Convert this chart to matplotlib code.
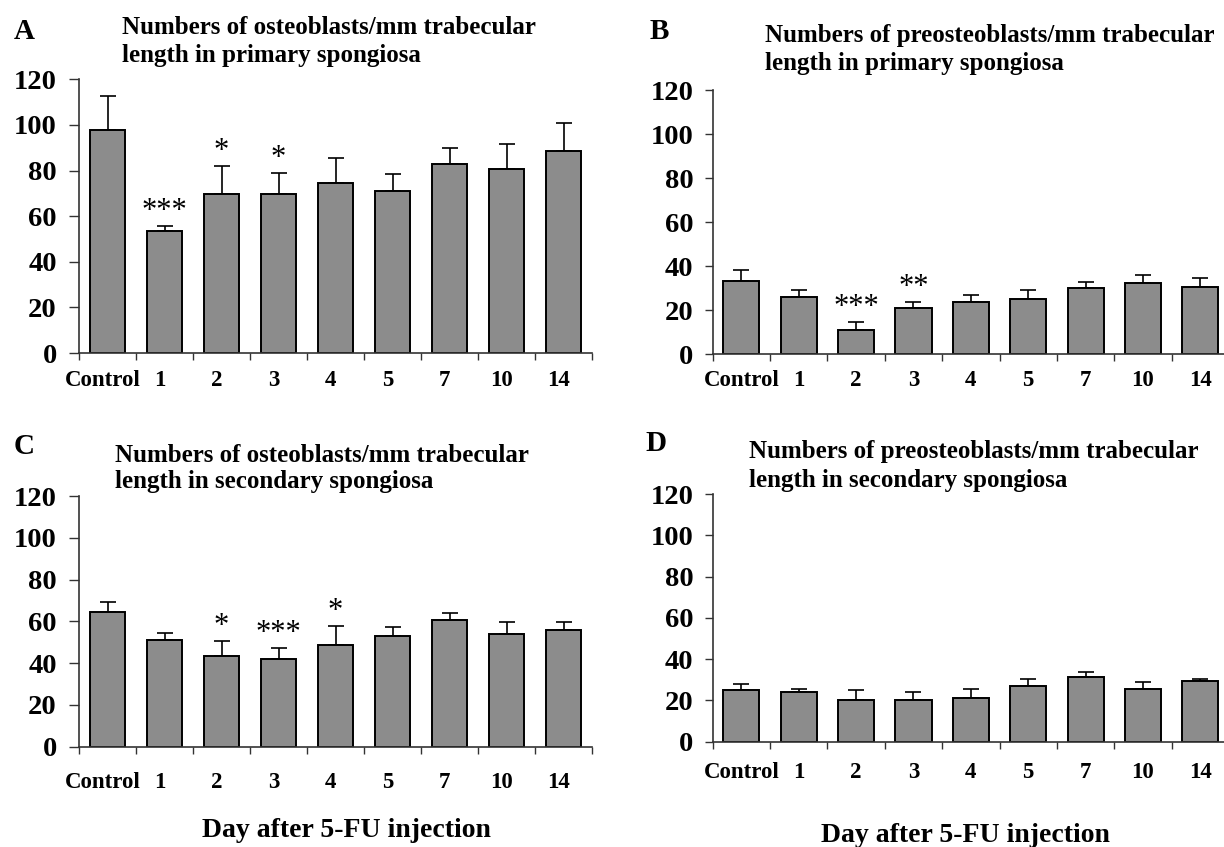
import numpy as np
import matplotlib
matplotlib.use('Agg')
import matplotlib.pyplot as plt
import matplotlib.transforms as mtrans

plt.rcParams['font.family'] = ['Liberation Serif', 'DejaVu Serif']
plt.rcParams['font.weight'] = 'bold'

# %% datos
dias = ['Control', '1', '2', '3', '4', '5', '7', '10', '14']

a_media = [97.8, 53.3, 69.6, 69.6, 74.5, 71.1, 82.8, 80.7, 88.6]
a_sem = [14.9, 2.5, 12.4, 9.2, 10.8, 7.3, 7.0, 10.8, 12.3]
a_sig = ['', '***', '*', '*', '', '', '', '', '']

b_media = [33.2, 26.1, 10.8, 20.8, 23.8, 25.2, 29.8, 32.1, 30.6]
b_sem = [5.0, 3.0, 3.7, 3.0, 3.2, 3.9, 3.1, 3.8, 3.8]
b_sig = ['', '', '***', '**', '', '', '', '', '']

c_media = [64.6, 51.2, 43.6, 42.0, 48.8, 53.1, 60.6, 53.9, 55.7]
c_sem = [4.8, 3.2, 6.8, 5.1, 9.1, 4.0, 3.2, 5.9, 4.1]
c_sig = ['', '', '*', '***', '*', '', '', '', '']

d_media = [24.9, 23.9, 20.0, 20.0, 21.3, 27.1, 31.3, 25.5, 29.4]
d_sem = [3.2, 1.6, 4.9, 4.1, 4.2, 3.3, 2.5, 3.4, 1.0]
d_sig = [''] * 9

titulos = {
    'A': ['Numbers of osteoblasts/mm trabecular', 'length in primary spongiosa'],
    'B': ['Numbers of preosteoblasts/mm trabecular', 'length in primary spongiosa'],
    'C': ['Numbers of osteoblasts/mm trabecular', 'length in secondary spongiosa'],
    'D': ['Numbers of preosteoblasts/mm trabecular', 'length in secondary spongiosa'],
}
eje_x = 'Day after 5-FU injection'

# %% figura
W, H = 1224, 847
fig = plt.figure(figsize=(W / 100, H / 100), dpi=100)


def caja(izq, arriba, der, abajo):
    # pixeles -> fraccion de figura
    return [izq / W, 1 - abajo / H, (der - izq) / W, (abajo - arriba) / H]


def texto(x, y, s, **kw):
    fig.text(x / W, 1 - y / H, s, **kw)


def panel(rect, media, sem, sig, xpad, ypad, ylen, corrimiento):
    ax = fig.add_axes(caja(*rect))
    x = np.arange(len(dias)) + 0.5
    ax.bar(x, media, width=0.63, color='#8c8c8c', edgecolor='black',
           linewidth=1.4, zorder=2)
    ax.errorbar(x, media, yerr=[np.zeros(len(sem)), sem], fmt='none',
                ecolor='black', elinewidth=1.2, capsize=5.8, capthick=1.2,
                zorder=1)
    for xi, m, s, t in zip(x, media, sem, sig):
        if t:
            ax.annotate(t, (xi, m + s), xytext=(0, 0), textcoords='offset points',
                        ha='center', va='bottom', fontsize=22,
                        fontweight='normal')
    ax.set_xlim(0, len(dias))
    ax.set_ylim(0, 120)
    ax.set_yticks(np.arange(0, 121, 20))
    ax.set_xticks(np.arange(len(dias) + 1), [''] * (len(dias) + 1))
    ax.set_xticks(x, dias, minor=True)
    ax.tick_params(axis='x', which='major', direction='out', length=5,
                   width=1.0, color='#333333')
    ax.tick_params(axis='x', which='minor', length=0, pad=xpad, labelsize=16.5)
    ax.tick_params(axis='y', direction='out', length=ylen, width=1.0,
                   color='#333333', pad=ypad, labelsize=20.5)
    # las etiquetas del original quedan un poco a la izquierda
    desplaza = mtrans.ScaledTranslation(corrimiento / 100, 0, fig.dpi_scale_trans)
    for lab in ax.get_xticklabels(minor=True):
        lab.set_transform(lab.get_transform() + desplaza)
    for lado in ['top', 'right']:
        ax.spines[lado].set_visible(False)
    for lado in ['left', 'bottom']:
        ax.spines[lado].set_color('#333333')
        ax.spines[lado].set_linewidth(1.2)
    ax.patch.set_alpha(0)
    return ax


panel((79, 79.3, 592, 353), a_media, a_sem, a_sig, 12, 9, 7, -5)
panel((712.7, 90, 1229, 354), b_media, b_sem, b_sig, 11.5, 8, 6, 0)
panel((79, 496, 592, 746.7), c_media, c_sem, c_sig, 18, 9, 7, -5)
panel((712.7, 494, 1229, 741.7), d_media, d_sem, d_sig, 14.5, 8, 6, 0)

# letras de panel
for letra, (lx, ly) in zip('ABCD', [(14, 39), (650, 39), (14, 454), (645, 451)]):
    texto(lx, ly, letra, fontsize=21, va='baseline', ha='left')

# titulos de dos lineas
pos_tit = {'A': (122, 34, 62), 'B': (765, 42, 70), 'C': (115, 462, 488),
           'D': (749, 458, 487)}
for letra, lineas in titulos.items():
    tx, y1, y2 = pos_tit[letra]
    texto(tx, y1, lineas[0], fontsize=18, va='baseline', ha='left')
    texto(tx, y2, lineas[1], fontsize=18, va='baseline', ha='left')

# etiqueta del eje x
texto(346, 837, eje_x, fontsize=20, va='baseline', ha='center')
texto(965, 842, eje_x, fontsize=20, va='baseline', ha='center')

fig.savefig('out.png', dpi=100)
